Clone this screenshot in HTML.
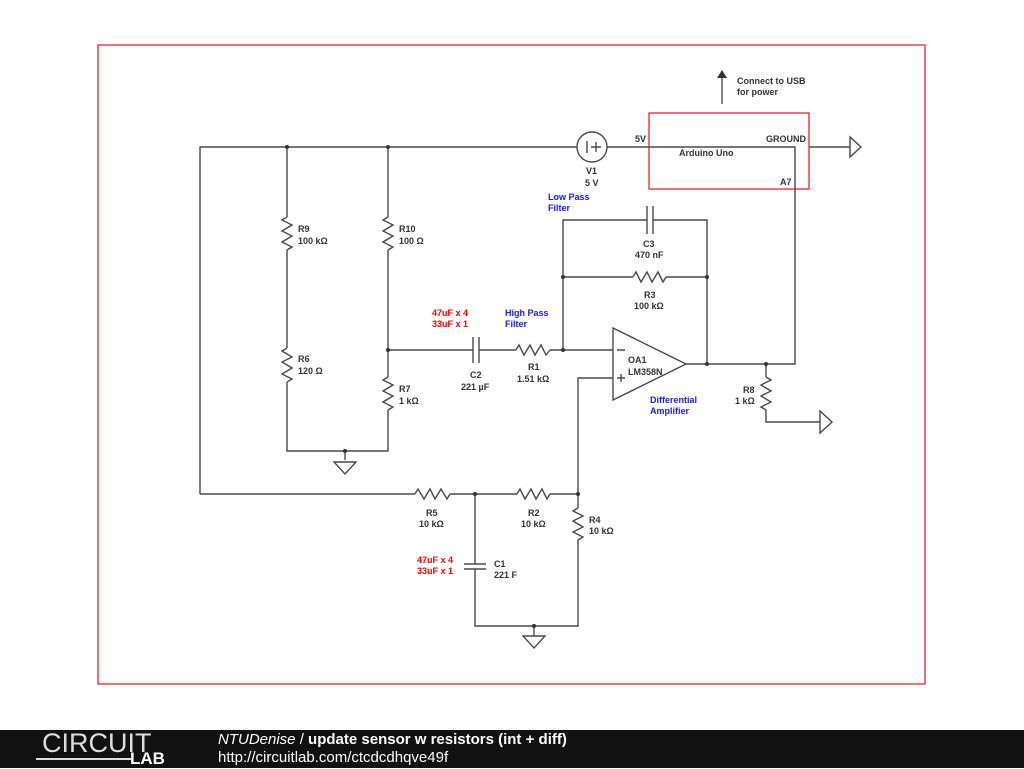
<!DOCTYPE html>
<html><head><meta charset="utf-8"><style>
body{margin:0;width:1024px;height:768px;background:#fff;overflow:hidden;position:relative;font-family:"Liberation Sans",sans-serif}
svg{position:absolute;left:0;top:0}
.t{font-family:"Liberation Sans",sans-serif;font-size:9px;font-weight:bold;fill:#333}
.b{fill:#1a1aff}.r{fill:#f00}
#foot{position:absolute;left:0;top:730px;width:1024px;height:38px;background:#111;color:#fff}
</style></head><body>
<svg width="1024" height="768" viewBox="0 0 1024 768">
<g fill="none" stroke="#4a4a4a" stroke-width="1.4">
<rect x="98" y="45" width="827" height="639" stroke="#e22" stroke-width="1.3"/>
<rect x="649" y="113" width="160" height="76" stroke="#e22" stroke-width="1.3"/>
<path d="M200 494V147H577M607 147H795V364H686"/>
<circle cx="592" cy="147" r="15"/>
<path d="M587 141v12M591 147h10M596 142v10"/>
<path d="M809 147H850"/>
<polygon points="850,137 850,157 861,147"/>
<path d="M722 104V78"/>
<path d="M287 147V217M287 250V348M287 382V451H388V410M388 377V250M388 217V147"/>
<polyline points="287,217 282,220 292,225 282,231 292,236 282,242 292,247 287,250"/>
<polyline points="388,217 383,220 393,225 383,231 393,236 383,242 393,247 388,250"/>
<polyline points="287,348 282,351 292,357 282,362 292,368 282,374 292,379 287,382"/>
<polyline points="388,377 383,380 393,385 383,391 393,396 383,402 393,407 388,410"/>
<path d="M345 451V460"/><polygon points="334,462 356,462 345,474"/>
<path d="M388 350H473M479 350H516M550 350H613M473 337V363M479 337V363"/>
<polyline points="516,350 519,345 524,355 530,345 535,355 541,345 546,355 550,350"/>
<path d="M563 350V220H647M653 220H707V364M647 206V234M653 206V234M563 277H633M666 277H707"/>
<polyline points="633,277 636,272 641,282 647,272 652,282 658,272 663,282 666,277"/>
<polygon points="613,328 613,400 686,364"/>
<path d="M617 350h8M617 378h8M621 374v8"/>
<path d="M766 364V377M766 410V422H820"/>
<polyline points="766,377 771,380 761,385 771,391 761,396 771,402 761,407 766,410"/>
<polygon points="820,411 820,433 832,422"/>
<path d="M200 494H415M450 494H517M550 494H578V378H613M578 494V508M578 540V626H475V569M475 564V494M464 564H486M464 569H486"/>
<polyline points="415,494 418,489 424,499 430,489 435,499 441,489 447,499 450,494"/>
<polyline points="517,494 520,489 525,499 531,489 536,499 542,489 547,499 550,494"/>
<polyline points="578,508 573,511 583,516 573,521 583,527 573,532 583,537 578,540"/>
<path d="M534 626V636"/><polygon points="523,636 545,636 534,648"/>
</g>
<polygon points="717,78 727,78 722,70" fill="#333"/>
<g fill="#333">
<circle cx="287" cy="147" r="2"/><circle cx="388" cy="147" r="2"/><circle cx="388" cy="350" r="2"/><circle cx="345" cy="451" r="2"/>
<circle cx="563" cy="350" r="2"/><circle cx="563" cy="277" r="2"/><circle cx="707" cy="277" r="2"/><circle cx="707" cy="364" r="2"/><circle cx="766" cy="364" r="2"/>
<circle cx="475" cy="494" r="2"/><circle cx="578" cy="494" r="2"/><circle cx="534" cy="626" r="2"/>
</g>
<text class="t" x="737" y="84">Connect to USB</text><text class="t" x="737" y="95">for power</text>
<text class="t" x="635" y="142">5V</text><text class="t" x="766" y="142">GROUND</text>
<text class="t" x="679" y="156">Arduino Uno</text><text class="t" x="780" y="185">A7</text>
<text class="t" x="586" y="174">V1</text><text class="t" x="585" y="186">5 V</text>
<text class="t b" x="548" y="200">Low Pass</text><text class="t b" x="548" y="211">Filter</text>
<text class="t" x="643" y="247">C3</text><text class="t" x="635" y="258">470 nF</text>
<text class="t" x="644" y="298">R3</text><text class="t" x="634" y="309">100 kΩ</text>
<text class="t" x="298" y="232">R9</text><text class="t" x="298" y="244">100 kΩ</text>
<text class="t" x="399" y="232">R10</text><text class="t" x="399" y="244">100 Ω</text>
<text class="t" x="298" y="362">R6</text><text class="t" x="298" y="374">120 Ω</text>
<text class="t" x="399" y="392">R7</text><text class="t" x="399" y="404">1 kΩ</text>
<text class="t r" x="432" y="316">47uF  x 4</text><text class="t r" x="432" y="327">33uF  x 1</text>
<text class="t b" x="505" y="316">High Pass</text><text class="t b" x="505" y="327">Filter</text>
<text class="t" x="470" y="378">C2</text><text class="t" x="461" y="390">221 µF</text>
<text class="t" x="528" y="370">R1</text><text class="t" x="517" y="382">1.51 kΩ</text>
<text class="t" x="628" y="363">OA1</text><text class="t" x="628" y="375">LM358N</text>
<text class="t b" x="650" y="403">Differential</text><text class="t b" x="650" y="414">Amplifier</text>
<text class="t" x="743" y="393">R8</text><text class="t" x="735" y="404">1 kΩ</text>
<text class="t" x="426" y="516">R5</text><text class="t" x="419" y="527">10 kΩ</text>
<text class="t" x="528" y="516">R2</text><text class="t" x="521" y="527">10 kΩ</text>
<text class="t" x="589" y="523">R4</text><text class="t" x="589" y="534">10 kΩ</text>
<text class="t r" x="417" y="563">47uF  x 4</text><text class="t r" x="417" y="574">33uF  x 1</text>
<text class="t" x="494" y="567">C1</text><text class="t" x="494" y="578">221 F</text>
</svg>
<div id="foot">
<div style="position:absolute;left:42px;top:-2px;font-size:27px;letter-spacing:0px;color:#ddd">CIRCUIT</div>
<div style="position:absolute;left:36px;top:28px;width:96px;height:2px;background:#ddd"></div>
<div style="position:absolute;left:130px;top:19px;font-size:17px;font-weight:bold;color:#fff">LAB</div>
<div style="position:absolute;left:218px;top:1px;font-size:15px;color:#fff"><i>NTUDenise</i> / <b>update sensor w resistors (int + diff)</b></div>
<div style="position:absolute;left:218px;top:19px;font-size:15px;color:#fff">http://circuitlab.com/ctcdcdhqve49f</div>
</div>
</body></html>
